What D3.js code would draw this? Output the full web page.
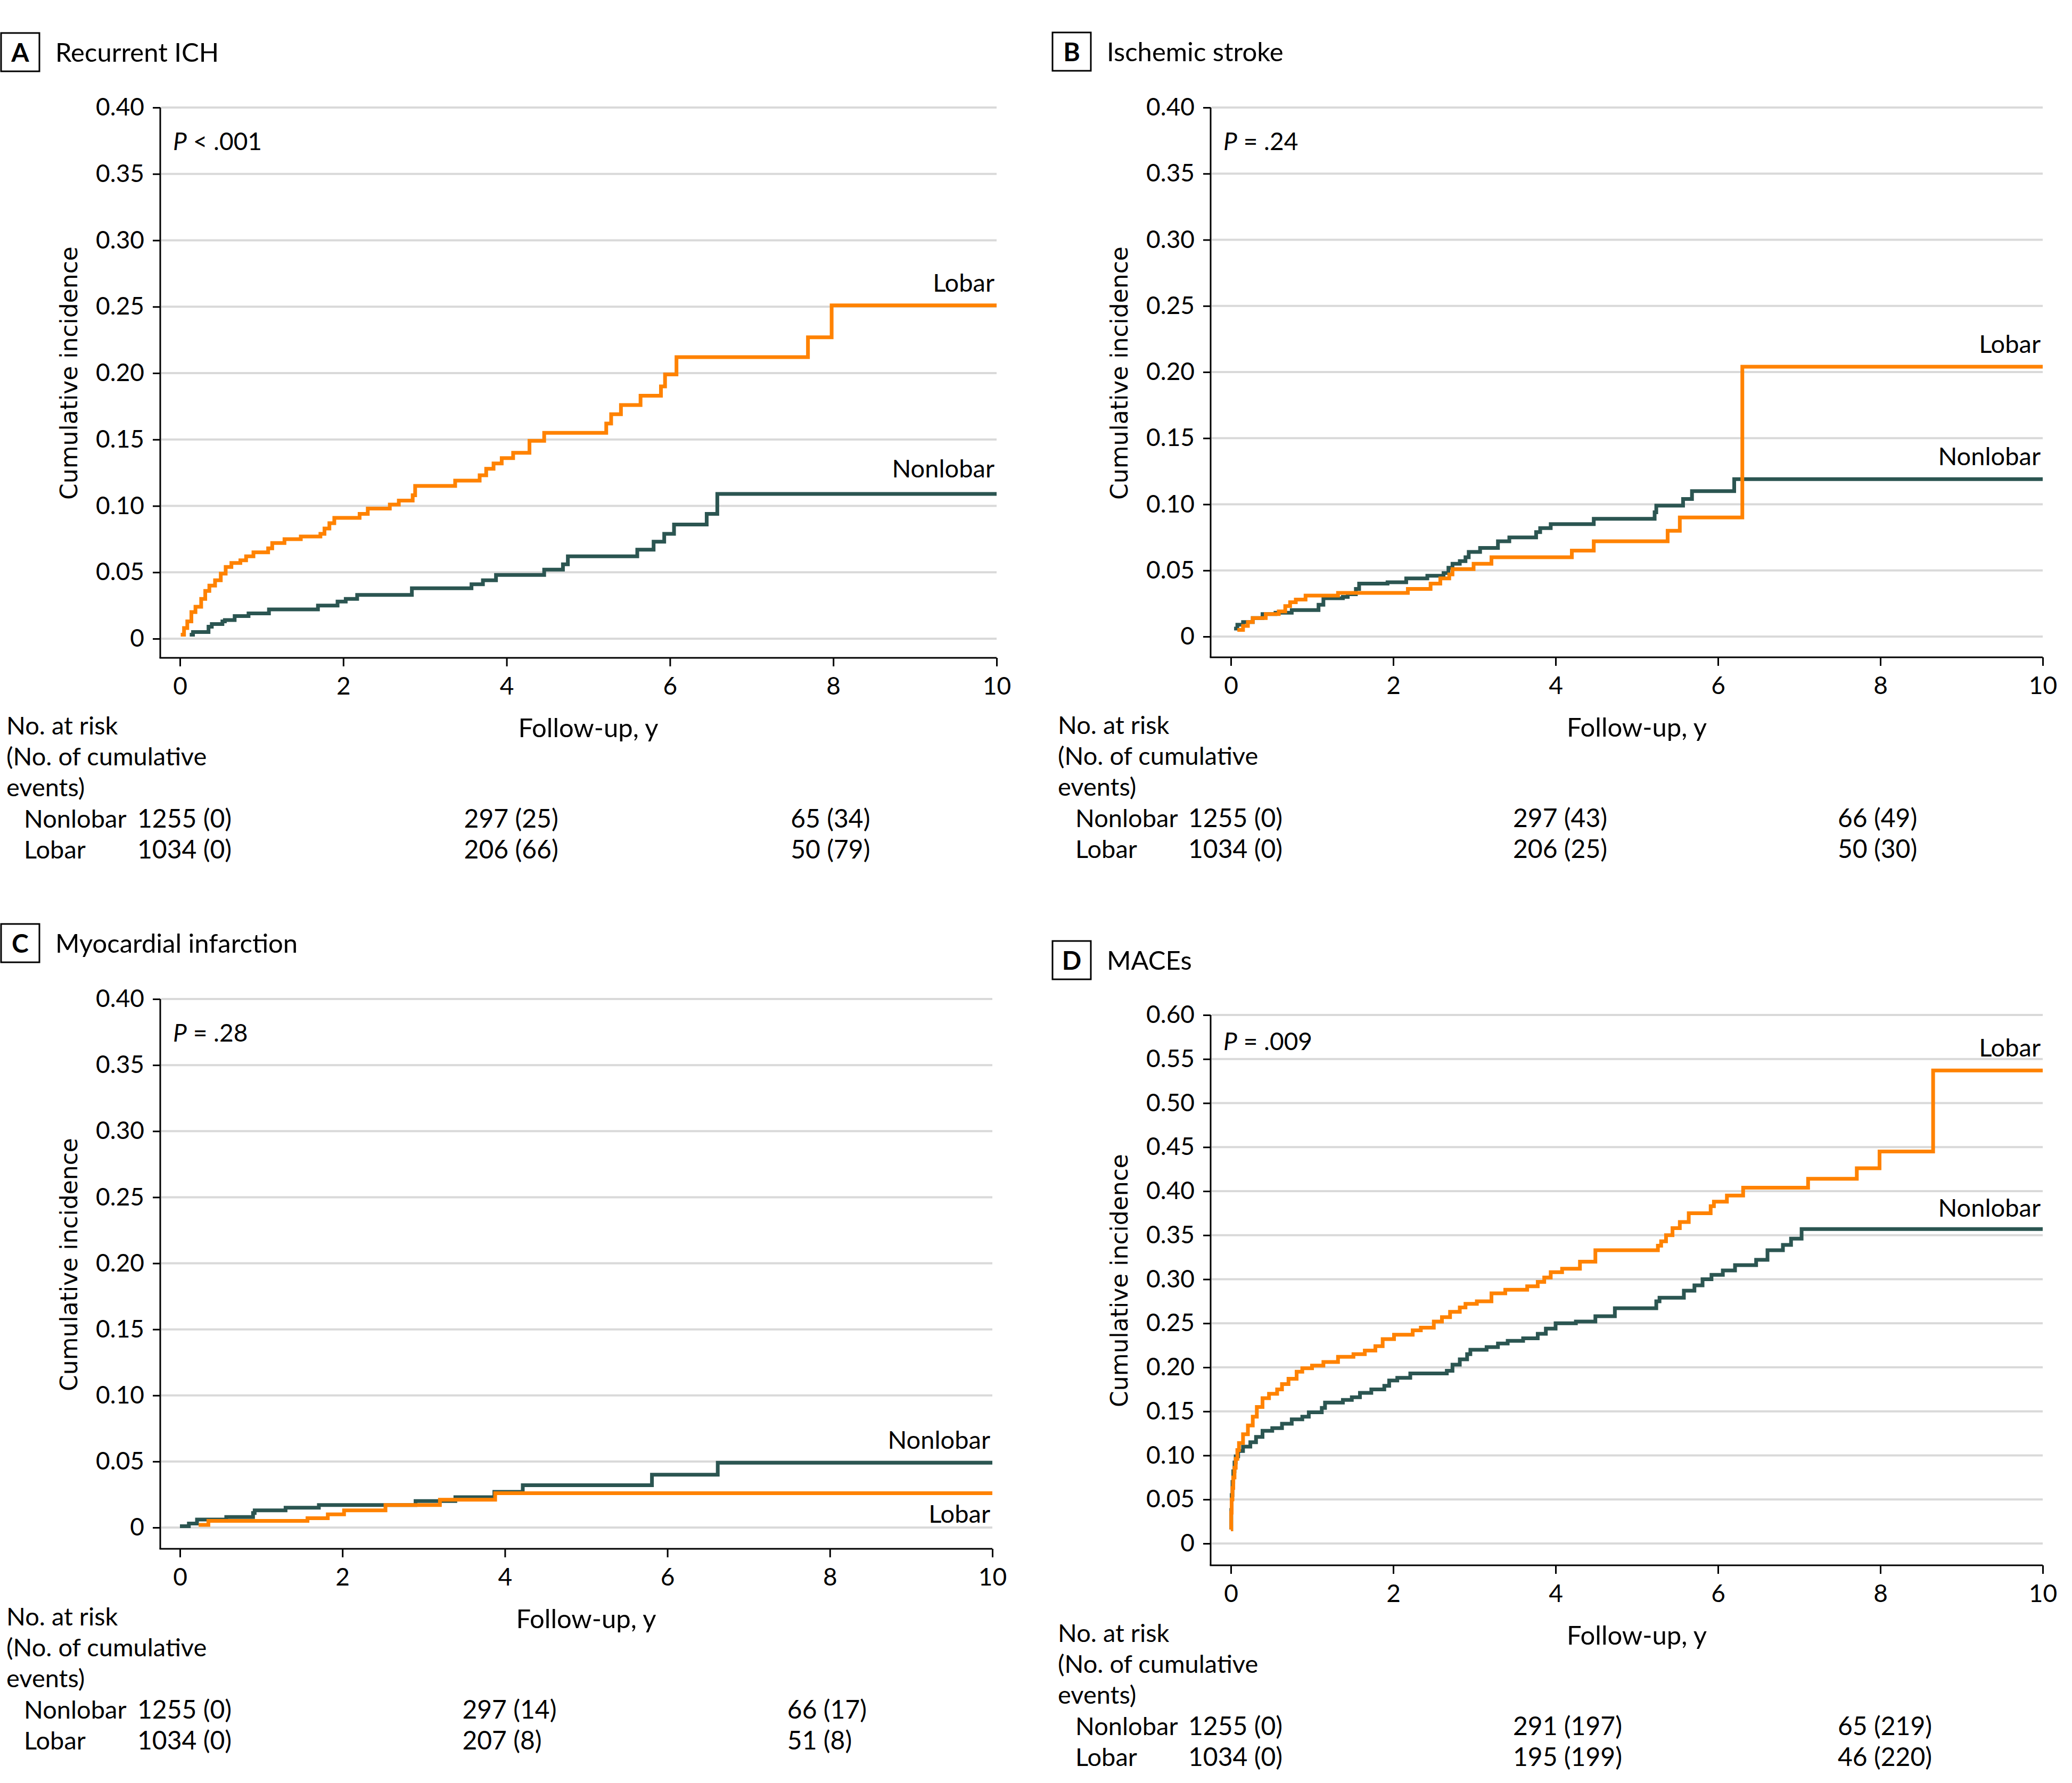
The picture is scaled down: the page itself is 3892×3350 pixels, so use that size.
<!DOCTYPE html>
<html><head><meta charset="utf-8">
<script src="https://cdn.jsdelivr.net/npm/d3@7"></script>
<style>body{margin:0;background:#fff}svg{display:block}</style>
</head><body>
<script>
// ---------- data ----------
const xTicks = [0, 2, 4, 6, 8, 10];
const yTicks040 = [0, 0.05, 0.10, 0.15, 0.20, 0.25, 0.30, 0.35, 0.40];
const yTicks060 = [0, 0.05, 0.10, 0.15, 0.20, 0.25, 0.30, 0.35, 0.40, 0.45, 0.50, 0.55, 0.60];
const followUpEnd = 10;
const riskTimes = [0, 4, 8];
const groupNames = ["Nonlobar", "Lobar"];
const panelLetters = ["A", "B", "C", "D"];
const panelTitles = ["Recurrent ICH", "Ischemic stroke", "Myocardial infarction", "MACEs"];
const pValues = ["< .001", "= .24", "= .28", "= .009"];

// A: Recurrent ICH  [years, cumulative incidence]
const ichLobar = [[0.01,0.003],[0.05,0.008],[0.09,0.013],[0.14,0.020],[0.19,0.024],[0.26,0.030],[0.31,0.036],[0.36,0.040],[0.43,0.044],[0.50,0.049],[0.56,0.054],[0.63,0.057],[0.74,0.059],[0.81,0.062],[0.90,0.065],[1.08,0.068],[1.13,0.072],[1.28,0.075],[1.48,0.077],[1.72,0.079],[1.77,0.083],[1.83,0.087],[1.89,0.091],[2.20,0.094],[2.30,0.098],[2.57,0.101],[2.68,0.104],[2.85,0.108],[2.88,0.115],[3.37,0.119],[3.67,0.123],[3.75,0.128],[3.84,0.132],[3.94,0.136],[4.08,0.140],[4.28,0.149],[4.46,0.155],[5.22,0.162],[5.28,0.169],[5.40,0.176],[5.64,0.183],[5.89,0.190],[5.94,0.199],[6.08,0.212],[7.69,0.227],[7.98,0.251]];
const ichNonlobar = [[0.12,0.003],[0.16,0.005],[0.35,0.009],[0.39,0.011],[0.52,0.013],[0.55,0.014],[0.67,0.017],[0.84,0.019],[1.09,0.022],[1.69,0.025],[1.93,0.028],[2.03,0.030],[2.17,0.033],[2.84,0.038],[3.57,0.041],[3.71,0.044],[3.87,0.048],[4.46,0.052],[4.69,0.056],[4.75,0.062],[5.60,0.067],[5.80,0.073],[5.93,0.079],[6.05,0.086],[6.45,0.094],[6.58,0.109]];
const ichRiskNonlobar = [1255, 297, 65], ichEventsNonlobar = [0, 25, 34];
const ichRiskLobar = [1034, 206, 50], ichEventsLobar = [0, 66, 79];

// B: Ischemic stroke
const isLobar = [[0.08,0.005],[0.15,0.008],[0.21,0.011],[0.27,0.014],[0.43,0.017],[0.59,0.019],[0.67,0.023],[0.73,0.026],[0.80,0.028],[0.92,0.031],[1.32,0.033],[2.18,0.036],[2.46,0.040],[2.58,0.044],[2.69,0.047],[2.73,0.051],[2.99,0.055],[3.21,0.060],[4.20,0.065],[4.47,0.072],[5.38,0.080],[5.53,0.090],[6.30,0.204]];
const isNonlobar = [[0.04,0.006],[0.08,0.009],[0.15,0.011],[0.27,0.014],[0.39,0.017],[0.55,0.018],[0.75,0.020],[1.08,0.024],[1.14,0.029],[1.38,0.030],[1.44,0.032],[1.54,0.036],[1.58,0.040],[1.93,0.041],[2.16,0.044],[2.42,0.046],[2.62,0.048],[2.68,0.052],[2.73,0.055],[2.82,0.057],[2.89,0.060],[2.93,0.064],[3.07,0.067],[3.29,0.072],[3.43,0.075],[3.76,0.079],[3.81,0.082],[3.94,0.085],[4.47,0.089],[5.22,0.094],[5.24,0.099],[5.57,0.104],[5.68,0.110],[6.20,0.119]];
const isRiskNonlobar = [1255, 297, 66], isEventsNonlobar = [0, 43, 49];
const isRiskLobar = [1034, 206, 50], isEventsLobar = [0, 25, 30];

// C: Myocardial infarction
const miLobar = [[0.23,0.002],[0.35,0.005],[1.57,0.007],[1.82,0.010],[2.02,0.013],[2.53,0.017],[3.20,0.021],[3.88,0.026]];
const miNonlobar = [[0.00,0.001],[0.11,0.003],[0.21,0.006],[0.57,0.008],[0.90,0.011],[0.92,0.013],[1.30,0.015],[1.71,0.017],[2.90,0.020],[3.39,0.023],[3.87,0.027],[4.22,0.032],[5.81,0.040],[6.62,0.049]];
const miRiskNonlobar = [1255, 297, 66], miEventsNonlobar = [0, 14, 17];
const miRiskLobar = [1034, 207, 51], miEventsLobar = [0, 8, 8];

// D: MACEs
const maceLobar = [[0.00,0.016],[0.005,0.035],[0.01,0.050],[0.02,0.063],[0.03,0.075],[0.045,0.086],[0.06,0.096],[0.08,0.106],[0.10,0.114],[0.15,0.124],[0.21,0.134],[0.27,0.144],[0.32,0.155],[0.39,0.165],[0.47,0.170],[0.57,0.175],[0.63,0.181],[0.71,0.187],[0.81,0.195],[0.88,0.199],[1.00,0.202],[1.14,0.206],[1.32,0.212],[1.51,0.215],[1.65,0.219],[1.78,0.224],[1.87,0.232],[2.01,0.237],[2.24,0.242],[2.34,0.245],[2.50,0.252],[2.60,0.257],[2.70,0.263],[2.82,0.268],[2.89,0.272],[3.03,0.275],[3.21,0.284],[3.38,0.288],[3.65,0.292],[3.78,0.297],[3.86,0.302],[3.94,0.308],[4.08,0.312],[4.30,0.320],[4.49,0.333],[5.26,0.338],[5.30,0.343],[5.36,0.350],[5.44,0.358],[5.53,0.365],[5.64,0.375],[5.91,0.383],[5.95,0.388],[6.11,0.395],[6.31,0.404],[7.11,0.414],[7.71,0.426],[7.99,0.445],[8.65,0.537]];
const maceNonlobar = [[0.00,0.016],[0.005,0.038],[0.01,0.055],[0.02,0.070],[0.03,0.082],[0.045,0.092],[0.06,0.099],[0.09,0.105],[0.15,0.110],[0.24,0.115],[0.31,0.121],[0.39,0.128],[0.51,0.131],[0.63,0.136],[0.75,0.141],[0.88,0.144],[0.96,0.149],[1.12,0.154],[1.16,0.160],[1.38,0.163],[1.49,0.166],[1.59,0.171],[1.73,0.175],[1.89,0.179],[1.95,0.185],[2.05,0.188],[2.21,0.193],[2.66,0.196],[2.73,0.203],[2.82,0.209],[2.91,0.215],[2.95,0.220],[3.15,0.223],[3.29,0.227],[3.41,0.230],[3.60,0.233],[3.78,0.238],[3.88,0.244],[4.00,0.250],[4.25,0.252],[4.49,0.258],[4.73,0.267],[5.24,0.275],[5.28,0.279],[5.58,0.287],[5.71,0.293],[5.81,0.300],[5.92,0.305],[6.06,0.310],[6.21,0.316],[6.47,0.322],[6.61,0.333],[6.80,0.339],[6.90,0.346],[7.03,0.357]];
const maceRiskNonlobar = [1255, 291, 65], maceEventsNonlobar = [0, 197, 219];
const maceRiskLobar = [1034, 195, 46], maceEventsLobar = [0, 199, 220];

// ---------- styling / layout ----------
const COL = { Lobar: "#ff8200", Nonlobar: "#2b5551" };
const FONT = "Lato, 'Open Sans', sans-serif";
const W = 3892, H = 3350;

const panels = [
  { nonlobar: ichNonlobar, lobar: ichLobar, yTicks: yTicks040, yMax: 0.40,
    risk: [ichRiskNonlobar, ichRiskLobar], events: [ichEventsNonlobar, ichEventsLobar],
    left: 0, axisX: 301, xr: [338, 1872], yr: [1200, 202], xAxisY: 1236, boxTop: 62, pDy: 80,
    lblOff: { Lobar: -26, Nonlobar: -31 } },
  { nonlobar: isNonlobar, lobar: isLobar, yTicks: yTicks040, yMax: 0.40,
    risk: [isRiskNonlobar, isRiskLobar], events: [isEventsNonlobar, isEventsLobar],
    left: 1975, axisX: 2274, xr: [2312, 3837], yr: [1196, 202], xAxisY: 1235, boxTop: 61, pDy: 80,
    lblOff: { Lobar: -26, Nonlobar: -26 } },
  { nonlobar: miNonlobar, lobar: miLobar, yTicks: yTicks040, yMax: 0.40,
    risk: [miRiskNonlobar, miRiskLobar], events: [miEventsNonlobar, miEventsLobar],
    left: 0, axisX: 301, xr: [338, 1864], yr: [2870, 1877], xAxisY: 2910, boxTop: 1736, pDy: 80,
    lblOff: { Lobar: 56, Nonlobar: -26 } },
  { nonlobar: maceNonlobar, lobar: maceLobar, yTicks: yTicks060, yMax: 0.60,
    risk: [maceRiskNonlobar, maceRiskLobar], events: [maceEventsNonlobar, maceEventsLobar],
    left: 1975, axisX: 2274, xr: [2312, 3837], yr: [2900, 1907], xAxisY: 2941, boxTop: 1768, pDy: 66,
    lblOff: { Lobar: -26, Nonlobar: -23 } }
];

const svg = d3.select("body").append("svg")
  .attr("width", W).attr("height", H)
  .style("font-family", FONT);
svg.append("rect").attr("width", W).attr("height", H).attr("fill", "#fff");

const fmtY = v => v === 0 ? "0" : d3.format(".2f")(v);

panels.forEach((p, i) => {
  const g = svg.append("g");
  const x = d3.scaleLinear().domain([0, 10]).range(p.xr);
  const y = d3.scaleLinear().domain([0, p.yMax]).range(p.yr);

  // title box
  g.append("rect").attr("x", p.left + 2).attr("y", p.boxTop).attr("width", 72).attr("height", 72)
    .attr("fill", "none").attr("stroke", "#000").attr("stroke-width", 3);
  g.append("text").attr("x", p.left + 38).attr("y", p.boxTop + 54)
    .attr("text-anchor", "middle").attr("font-weight", 700).attr("font-size", 48).text(panelLetters[i]);
  g.append("text").attr("x", p.left + 104).attr("y", p.boxTop + 54)
    .attr("font-size", 49).text(panelTitles[i]);

  // gridlines
  g.append("g").selectAll("line").data(p.yTicks).join("line")
    .attr("x1", p.axisX + 2).attr("x2", p.xr[1]).attr("y1", d => y(d)).attr("y2", d => y(d))
    .attr("stroke", "#d9d9d9").attr("stroke-width", 4);

  // y axis
  const yAxis = d3.axisLeft(y).tickValues(p.yTicks).tickFormat(fmtY).tickSize(14).tickPadding(16);
  const ya = g.append("g").attr("transform", `translate(${p.axisX},0)`).call(yAxis);
  ya.select(".domain").attr("d", `M0,${y(p.yMax)}V${p.xAxisY}`).attr("stroke-width", 3);
  ya.selectAll(".tick line").attr("stroke-width", 3);
  ya.selectAll(".tick text").attr("font-size", 46).attr("font-family", FONT).attr("fill", "#000");

  // x axis
  const xAxis = d3.axisBottom(x).tickValues(xTicks).tickSize(16).tickPadding(20);
  const xa = g.append("g").attr("transform", `translate(0,${p.xAxisY})`).call(xAxis);
  xa.select(".domain").attr("d", `M${p.axisX - 1.5},0H${p.xr[1]}`).attr("stroke-width", 3);
  xa.selectAll(".tick line").attr("stroke-width", 3);
  xa.selectAll(".tick text").attr("font-size", 46).attr("font-family", FONT).attr("fill", "#000");

  // y label
  g.append("text")
    .attr("transform", `translate(${p.axisX - 156},${y(p.yMax) + 499}) rotate(-90)`)
    .attr("text-anchor", "middle").attr("font-family", "'DejaVu Sans', Verdana, sans-serif")
    .attr("font-size", 44).text("Cumulative incidence");

  // P value
  const pt = g.append("text").attr("x", p.axisX + 24).attr("y", y(p.yMax) + p.pDy).attr("font-size", 46);
  pt.append("tspan").attr("font-style", "italic").text("P");
  pt.append("tspan").text(" " + pValues[i]);

  // curves
  const line = d3.line().x(d => x(d[0])).y(d => y(d[1])).curve(d3.curveStepAfter);
  [["Nonlobar", p.nonlobar], ["Lobar", p.lobar]].forEach(([name, data]) => {
    const pts = data.concat([[followUpEnd, data[data.length - 1][1]]]);
    g.append("path").attr("d", line(pts)).attr("fill", "none")
      .attr("stroke", COL[name]).attr("stroke-width", 7).attr("stroke-linejoin", "miter");
    g.append("text").attr("x", p.xr[1] - 4).attr("y", y(data[data.length - 1][1]) + p.lblOff[name])
      .attr("text-anchor", "end").attr("font-size", 47).text(name);
  });

  // x label
  g.append("text").attr("x", (p.xr[0] + p.xr[1]) / 2).attr("y", p.xAxisY + 149)
    .attr("text-anchor", "middle").attr("font-size", 49).text("Follow-up, y");

  // risk table
  const hdr = ["No. at risk", "(No. of cumulative", "events)"];
  hdr.forEach((t, k) => g.append("text").attr("x", p.left + 12).attr("y", p.xAxisY + 144 + k * 58)
    .attr("font-size", 47).text(t));
  groupNames.forEach((gn, r) => {
    const yy = p.xAxisY + 319 + r * 58;
    g.append("text").attr("x", p.left + 45).attr("y", yy).attr("font-size", 47).text(gn);
    riskTimes.forEach((t, c) => {
      g.append("text").attr("x", x(t) - 80).attr("y", yy).attr("font-size", 48)
        .text(`${p.risk[r][c]} (${p.events[r][c]})`);
    });
  });
});
</script>
</body></html>
